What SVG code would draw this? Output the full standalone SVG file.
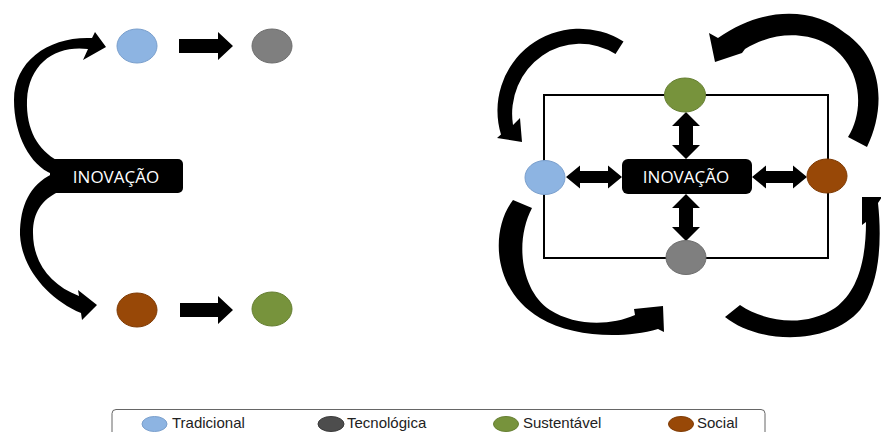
<svg xmlns="http://www.w3.org/2000/svg" width="881" height="432" viewBox="0 0 881 432">
  <style>
    .arr { fill: #000; }
    .box { fill: #000; }
    .lbl { font-family: "Open Sans", "Liberation Sans", sans-serif; font-size: 17px; fill: #fff; text-anchor: middle; }
    .leg { font-family: "Liberation Sans", Arial, sans-serif; font-size: 15px; fill: #222; }
    .blue { fill: #8DB4E2; stroke: #7A9FCC; stroke-width: 1; }
    .gray { fill: #7F7F7F; stroke: #6E6E6E; stroke-width: 1; }
    .brown { fill: #984807; stroke: #7F3B05; stroke-width: 1; }
    .green { fill: #77933C; stroke: #667F33; stroke-width: 1; }
    .dark { fill: #4D4D4D; stroke: #3A3A3A; stroke-width: 1; }
  </style>
  <rect width="881" height="432" fill="#fff"/>

  <!-- Left model: linear paths -->
  <g id="connectors-left">
    <!-- curved arrow up to Tradicional -->
    <path class="arr" d="M52,174 C30,165 14,135 14,100 C14,60 50,36 92,38 L95,32 L106,47 L83,60 L88,49 C57,45 29,62 27,100 C26,130 38,150 58,161 Z"/>
    <!-- curved arrow down to Social -->
    <path class="arr" d="M52,174 C30,185 20,205 20,235 C22,270 50,300 81,313 L82,320 L97,305 L78,290 L79,296 C50,285 33,262 33,233 C33,212 42,200 58,192 Z"/>
    <path class="arr" d="M179,39 L218,39 L218,32 L233,46 L218,60 L218,53 L179,53 Z"/>
    <path class="arr" d="M180,303 L218,303 L218,296 L233,310 L218,324 L218,317 L180,317 Z"/>
  </g>
  <g id="inovacao-left">
    <rect class="box" x="50" y="159" width="133" height="34" rx="5"/>
    <text class="lbl" x="116" y="183">INOVAÇÃO</text>
  </g>
  <g id="tradicional-left"><ellipse class="blue" cx="137" cy="46" rx="20" ry="17"/></g>
  <g id="tecnologica-left"><ellipse class="gray" cx="272" cy="46" rx="20" ry="17"/></g>
  <g id="social-left"><ellipse class="brown" cx="137" cy="310" rx="20" ry="17"/></g>
  <g id="sustentavel-left"><ellipse class="green" cx="272" cy="309" rx="20" ry="17"/></g>

  <!-- Right model: integrated cycle -->
  <g id="frame">
    <rect x="544" y="95" width="284" height="163" fill="none" stroke="#000" stroke-width="2"/>
  </g>
  <g id="connectors-right">
    <!-- circular arrows -->
    <path class="arr" d="M623.5,41.5 A82,82 0 0 0 501,134.5 L497,138 L522,142 L520,118 L513,125 A68,70 0 0 1 615.5,54 Z"/>
    <path class="arr" d="M867,147 C885,110 885,60 845,33 C815,8 765,5 718,38 L709,33 L715,62 L742,53 L745,49 C780,27 825,32 845,60 C862,82 862,115 848,137 Z"/>
    <path class="arr" d="M513,200 C490,230 492,290 540,318 C570,336 620,340 658,329 L664,332 L663,306 L634,309 L635,315 C610,326 575,326 550,310 C520,290 515,240 532,208 Z"/>
    <path class="arr" d="M725,317 C760,345 830,345 860,310 C880,285 882,240 878,203 L882,197 L862,197 L862,225 L866,222 C866,255 860,290 835,308 C805,328 765,322 740,305 Z"/>
    <!-- double arrows to the centre -->
    <path class="arr" d="M686,112 L700,126 L693,126 L693,145 L700,145 L686,159 L672,145 L679,145 L679,126 L672,126 Z"/>
    <path class="arr" d="M686,194 L700,208 L693,208 L693,227 L700,227 L686,241 L672,227 L679,227 L679,208 L672,208 Z"/>
    <path class="arr" d="M566,177 L580,165.5 L580,171 L608,171 L608,165.5 L622,177 L608,188.5 L608,183 L580,183 L580,188.5 Z"/>
    <path class="arr" d="M752,177 L766,165.5 L766,171 L793,171 L793,165.5 L807,177 L793,188.5 L793,183 L766,183 L766,188.5 Z"/>
  </g>
  <g id="inovacao-right">
    <rect class="box" x="622" y="159" width="130" height="35" rx="6"/>
    <text class="lbl" x="686" y="183">INOVAÇÃO</text>
  </g>
  <g id="sustentavel-right"><ellipse class="green" cx="685" cy="95" rx="20.5" ry="17"/></g>
  <g id="tradicional-right"><ellipse class="blue" cx="545" cy="177.5" rx="20" ry="17"/></g>
  <g id="social-right"><ellipse class="brown" cx="827" cy="176" rx="20" ry="17"/></g>
  <g id="tecnologica-right"><ellipse class="gray" cx="686" cy="257.5" rx="20" ry="17"/></g>

  <!-- Legend -->
  <g id="legend">
    <rect x="112" y="409.5" width="653" height="40" rx="4" fill="#fff" stroke="#666" stroke-width="1"/>
    <ellipse class="blue" cx="154.5" cy="424" rx="12.5" ry="7.5"/>
    <text class="leg" x="172" y="428">Tradicional</text>
    <ellipse class="dark" cx="331" cy="424" rx="13" ry="7.5"/>
    <text class="leg" x="347" y="428">Tecnológica</text>
    <ellipse class="green" cx="506" cy="424" rx="12.5" ry="7.5"/>
    <text class="leg" x="523" y="428">Sustentável</text>
    <ellipse class="brown" cx="681" cy="424" rx="12.5" ry="7.5"/>
    <text class="leg" x="697" y="428">Social</text>
  </g>
</svg>
